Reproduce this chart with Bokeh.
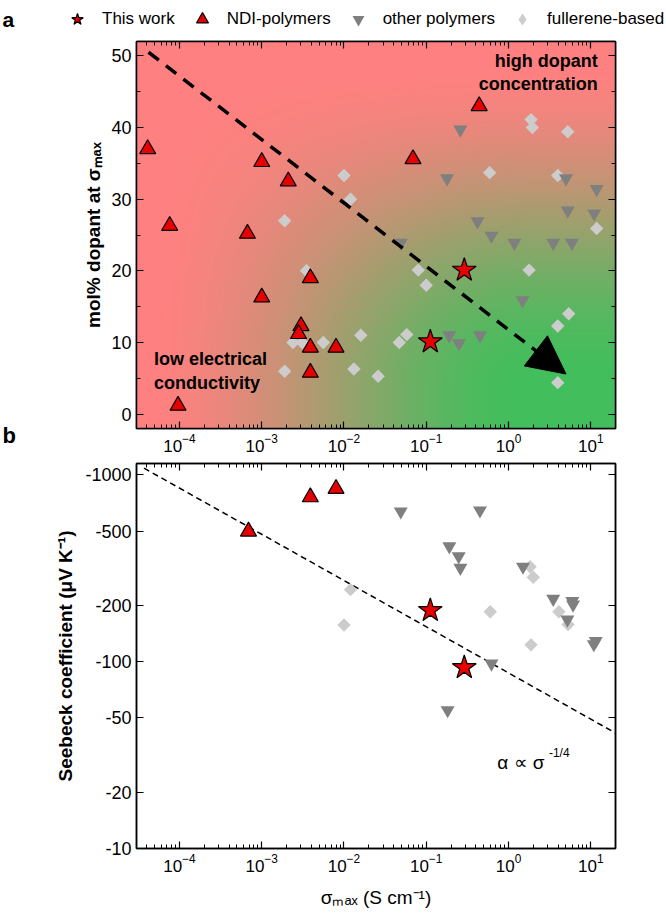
import numpy as np
from bokeh.plotting import figure
from bokeh.models import (Range1d, LogAxis, LinearAxis, LogTicker, FixedTicker,
                          SingleIntervalTicker, Legend, LegendItem, Label, Arrow,
                          NormalHead, CustomJSTickFormatter)
from bokeh.core.properties import value
from bokeh.layouts import column, row
from bokeh.embed import file_html
from bokeh.resources import INLINE

FONT = "Liberation Sans"

# ---------------- data ----------------
# panel a : sigma_max (S cm-1) vs mol% dopant at sigma_max
this_work_sigma_a = [0.112, 0.29]
this_work_dopant = [10.1, 20.1]

ndi_sigma_a = [4.1e-5, 7.6e-5, 9.6e-5, 1.0e-3, 6.7e-4, 1.0e-3, 2.1e-3, 3.0e-3,
               2.8e-3, 3.9e-3, 3.9e-3, 3.9e-3, 8.0e-3, 0.069, 0.44]
ndi_dopant = [37.0, 26.3, 1.2, 35.2, 25.2, 16.3, 32.5, 12.3,
              11.2, 19.0, 9.3, 5.8, 9.3, 35.6, 43.0]

other_sigma_a = [0.26, 0.179, 5.0, 11.8, 5.25, 11.0, 0.42, 0.62,
                 0.049, 1.18, 3.5, 5.9, 1.48, 0.19, 0.25, 0.45]
other_dopant = [39.7, 32.9, 32.9, 31.4, 28.4, 28.0, 26.9, 24.9,
                23.9, 23.9, 23.9, 23.9, 15.9, 11.0, 9.9, 11.0]

fullerene_sigma_a = [0.010, 0.012, 1.9e-3, 3.5e-3, 2.4e-3, 3.1e-3, 5.6e-3, 1.9e-3,
                     0.016, 0.0132, 0.026, 1.88, 1.95, 5.25, 0.59, 3.97, 11.8,
                     0.080, 0.10, 1.78, 5.4, 3.97, 0.058, 0.047, 3.97]
fullerene_dopant = [33.3, 30.0, 27.0, 20.0, 10.0, 10.0, 10.0, 6.0,
                    11.0, 6.3, 5.3, 41.1, 40.0, 39.4, 33.7, 33.3, 25.9,
                    20.1, 18.0, 20.1, 14.0, 12.3, 11.1, 10.0, 4.4]

arrow_sigma = [4.2e-5, 5.0]
arrow_dopant = [50.5, 5.6]

# panel b : sigma_max vs Seebeck coefficient (magnitude, values are negative)
this_work_sigma_b = [0.112, 0.29]
this_work_seebeck = [188, 93]

ndi_sigma_b = [6.9e-4, 3.9e-3, 8.0e-3]
ndi_seebeck = [498, 760, 842]

other_sigma_b = [0.049, 0.45, 0.191, 0.248, 0.26, 1.5, 3.5, 5.97, 6.1, 5.2,
                 11.5, 10.9, 0.62, 0.182]
other_seebeck = [637, 645, 414, 366, 318, 322, 217, 211, 202, 168,
                 129, 124, 97.6, 55]

fullerene_sigma_b = [0.012, 0.010, 1.83, 2.0, 0.6, 4.1, 5.3, 1.88]
fullerene_seebeck = [243, 157, 322, 283, 185, 185, 158, 123]

fit_sigma = [3.7e-5, 20]
fit_seebeck = [1086, 41.5]

legend_labels = ["This work", "NDI-polymers", "other polymers", "fullerene-based"]
panel_letters = ["a", "b"]
seebeck_ticks = [10, 20, 50, 100, 200, 500, 1000]
seebeck_tick_labels = ["-10", "-20", "-50", "-100", "-200", "-500", "-1000"]

X_RANGE = (3e-5, 20)
DOPANT_RANGE = (-2, 52)
SEEBECK_RANGE = (10, 1150)

RED = "#E60000"
DARK = "#7F7F7F"
LIGHT = "#CCCCCC"

empty_fmt = "return ''"


def style_axis(ax, size="17px", show_labels=True):
    ax.major_tick_in = 7
    ax.major_tick_out = 0
    ax.minor_tick_in = 4
    ax.minor_tick_out = 0
    ax.axis_line_width = 1.5
    ax.axis_line_color = "black"
    ax.major_tick_line_width = 1.2
    ax.minor_tick_line_width = 1
    ax.major_tick_line_color = "black"
    ax.minor_tick_line_color = "black"
    ax.major_label_text_font = FONT
    ax.major_label_text_font_size = size
    ax.major_label_text_color = "black"
    ax.major_label_standoff = 5
    ax.axis_label_text_color = "black"
    ax.axis_label_text_font = FONT
    if not show_labels:
        ax.formatter = CustomJSTickFormatter(code=empty_fmt)
        ax.major_label_text_font_size = "0px"
        ax.major_label_standoff = 0


def markers(p, sx, sy, kind):
    if kind == "star":
        return p.scatter(sx, sy, marker="star", size=25, fill_color=RED,
                         line_color="black", line_width=1.2)
    if kind == "ndi":
        return p.scatter(sx, sy, marker="triangle", size=16, fill_color=RED,
                         line_color="black", line_width=1.2)
    if kind == "other":
        return p.scatter(sx, sy, marker="inverted_triangle", size=14,
                         fill_color=DARK, line_color=None)
    if kind == "full_legend":
        return p.scatter(sx, sy, marker="diamond", size=14,
                         fill_color=LIGHT, line_color=None)
    return p.scatter(sx, sy, marker="square", size=9.5, angle=np.pi / 4,
                     fill_color=LIGHT, line_color=None)


def bare(fig):
    fig.xgrid.grid_line_color = None
    fig.ygrid.grid_line_color = None
    fig.outline_line_color = None
    fig.background_fill_color = None
    fig.border_fill_color = None


# ---------------- header: letter "a" + legend ----------------
header = figure(width=666, height=36, x_range=Range1d(0, 666), y_range=Range1d(0, 36),
                output_backend="svg", toolbar_location=None,
                x_axis_location=None, y_axis_location=None, min_border=0)
bare(header)
header.text(x=[2], y=[17], text=panel_letters[:1], text_align="left",
            text_baseline="alphabetic", text_font=value(FONT), text_font_style="bold",
            text_font_size="21px", text_color="black")
# legend proxies (drawn off-range, only their legend glyphs show)
h_star = markers(header, [-1000], [-1000], "star")
h_ndi = markers(header, [-1000], [-1000], "ndi")
h_other = markers(header, [-1000], [-1000], "other")
h_full = markers(header, [-1000], [-1000], "full_legend")
legend = Legend(items=[LegendItem(label=legend_labels[0], renderers=[h_star]),
                       LegendItem(label=legend_labels[1], renderers=[h_ndi]),
                       LegendItem(label=legend_labels[2], renderers=[h_other]),
                       LegendItem(label=legend_labels[3], renderers=[h_full])],
                orientation="horizontal", location=(62, 2),
                glyph_width=30, glyph_height=30, label_standoff=10, spacing=12,
                padding=0, margin=0, label_text_font=FONT, label_height=30,
                label_text_font_size="17px", label_text_color="black",
                background_fill_alpha=0, border_line_color=None)
header.add_layout(legend, "center")

# ---------------- letter strip for "b" ----------------
strip = figure(width=20, height=424, x_range=Range1d(0, 20), y_range=Range1d(0, 424),
               output_backend="svg", toolbar_location=None,
               x_axis_location=None, y_axis_location=None, min_border=0)
bare(strip)
strip.text(x=[2], y=[25], text=panel_letters[1:], text_align="left",
           text_baseline="alphabetic", text_font=value(FONT), text_font_style="bold",
           text_font_size="22px", text_color="black")

# ---------------- panel a ----------------
p1 = figure(width=646, height=424, x_axis_type="log",
            x_range=Range1d(*X_RANGE), y_range=Range1d(*DOPANT_RANGE),
            output_backend="svg", toolbar_location=None,
            min_border_left=116, min_border_right=51,
            min_border_top=5, min_border_bottom=32)
p1.xgrid.grid_line_color = None
p1.ygrid.grid_line_color = None
p1.outline_line_color = "black"
p1.outline_line_width = 1.5

# background gradient (red = poor, green = high conductivity at low doping)
nx, ny = 300, 160
lx = np.linspace(np.log10(X_RANGE[0]), np.log10(X_RANGE[1]), nx)
yv = np.linspace(DOPANT_RANGE[0], DOPANT_RANGE[1], ny)


def smooth(t):
    t = np.clip(t, 0, 1)
    return t * t * (3 - 2 * t)


tx = smooth((lx + 4.5) / 4.8)
ty = smooth((50 - yv) / 46)
t = ty[:, None] * tx[None, :]
c_red = np.array([255, 128, 128], dtype=float)
c_green = np.array([66, 190, 92], dtype=float)
rgb = c_red[None, None, :] * (1 - t[..., None]) + c_green[None, None, :] * t[..., None]
img = np.empty((ny, nx), dtype=np.uint32)
view = img.view(dtype=np.uint8).reshape((ny, nx, 4))
view[..., 0:3] = np.round(rgb).astype(np.uint8)
view[..., 3] = 255
p1.image_rgba(image=[img], x=X_RANGE[0], y=DOPANT_RANGE[0],
              dw=X_RANGE[1] - X_RANGE[0], dh=DOPANT_RANGE[1] - DOPANT_RANGE[0])

markers(p1, fullerene_sigma_a, fullerene_dopant, "full")
markers(p1, other_sigma_a, other_dopant, "other")
markers(p1, ndi_sigma_a, ndi_dopant, "ndi")

p1.add_layout(Arrow(x_start=arrow_sigma[0], y_start=arrow_dopant[0],
                    x_end=arrow_sigma[1], y_end=arrow_dopant[1],
                    line_width=3.5, line_dash="13 9", line_color="black",
                    end=NormalHead(size=38, fill_color="black", line_color="black")))

markers(p1, this_work_sigma_a, this_work_dopant, "star")

xa = p1.xaxis[0]
xa.ticker = LogTicker(num_minor_ticks=10)
style_axis(xa, "17px")
ya = p1.yaxis[0]
ya.ticker = SingleIntervalTicker(interval=10, num_minor_ticks=2)
style_axis(ya, "18px")
ya.axis_label = "mol% dopant at σₘₐₓ"
ya.axis_label_text_font_style = "bold"
ya.axis_label_text_font_size = "19px"
ya.axis_label_standoff = 4

top_ax = LogAxis(ticker=LogTicker(num_minor_ticks=10))
style_axis(top_ax, show_labels=False)
p1.add_layout(top_ax, "above")
right_ax = LinearAxis(ticker=SingleIntervalTicker(interval=10, num_minor_ticks=2))
style_axis(right_ax, show_labels=False)
p1.add_layout(right_ax, "right")

for txt, yy in (("high dopant", 49.3), ("concentration", 46.1)):
    p1.add_layout(Label(x=12.2, y=yy, text=txt, text_align="right",
                        text_baseline="middle", text_font=FONT, text_color="black",
                        text_font_style="bold", text_font_size="18px"))
for txt, yy in (("low electrical", 7.7), ("conductivity", 4.4)):
    p1.add_layout(Label(x=4.9e-5, y=yy, text=txt, text_align="left",
                        text_baseline="middle", text_font=FONT, text_color="black",
                        text_font_style="bold", text_font_size="18px"))

# ---------------- panel b ----------------
p2 = figure(width=646, height=455, x_axis_type="log", y_axis_type="log",
            x_range=Range1d(*X_RANGE), y_range=Range1d(*SEEBECK_RANGE),
            output_backend="svg", toolbar_location=None,
            min_border_left=116, min_border_right=51,
            min_border_top=3, min_border_bottom=67)
p2.xgrid.grid_line_color = None
p2.ygrid.grid_line_color = None
p2.outline_line_color = "black"
p2.outline_line_width = 1.5

p2.line(fit_sigma, fit_seebeck, line_color="black", line_width=1.5, line_dash="6 4")
markers(p2, fullerene_sigma_b, fullerene_seebeck, "full")
markers(p2, other_sigma_b, other_seebeck, "other")
markers(p2, ndi_sigma_b, ndi_seebeck, "ndi")
markers(p2, this_work_sigma_b, this_work_seebeck, "star")

xb = p2.xaxis[0]
xb.ticker = LogTicker(num_minor_ticks=10)
style_axis(xb, "17px")
xb.axis_label = "σₘₐₓ (S cm⁻¹)"
xb.axis_label_text_font_style = "normal"
xb.axis_label_text_font_size = "19px"
xb.axis_label_standoff = 12

yb = p2.yaxis[0]
yb.ticker = FixedTicker(ticks=seebeck_ticks, minor_ticks=[])
yb.major_label_overrides = dict(zip(seebeck_ticks, seebeck_tick_labels))
style_axis(yb, "18px")
yb.axis_label = "Seebeck coefficient (μV K⁻¹)"
yb.axis_label_text_font_style = "bold"
yb.axis_label_text_font_size = "19px"
yb.axis_label_standoff = 6

top_b = LogAxis(ticker=LogTicker(num_minor_ticks=10))
style_axis(top_b, show_labels=False)
p2.add_layout(top_b, "above")
right_b = LogAxis(ticker=FixedTicker(ticks=seebeck_ticks, minor_ticks=[]))
style_axis(right_b, show_labels=False)
p2.add_layout(right_b, "right")

p2.add_layout(Label(x=0.73, y=29, text="α ∝ σ", text_align="left",
                    text_baseline="middle", text_font=FONT, text_color="black",
                    text_font_size="19px"))
p2.add_layout(Label(x=3.1, y=32.5, text="-1/4", text_align="left",
                    text_baseline="middle", text_font=FONT, text_color="black",
                    text_font_size="12px"))

layout = column(header, row(strip, column(p1, p2, spacing=0), spacing=0), spacing=0)
open("out.html", "w").write(file_html(layout, INLINE))
